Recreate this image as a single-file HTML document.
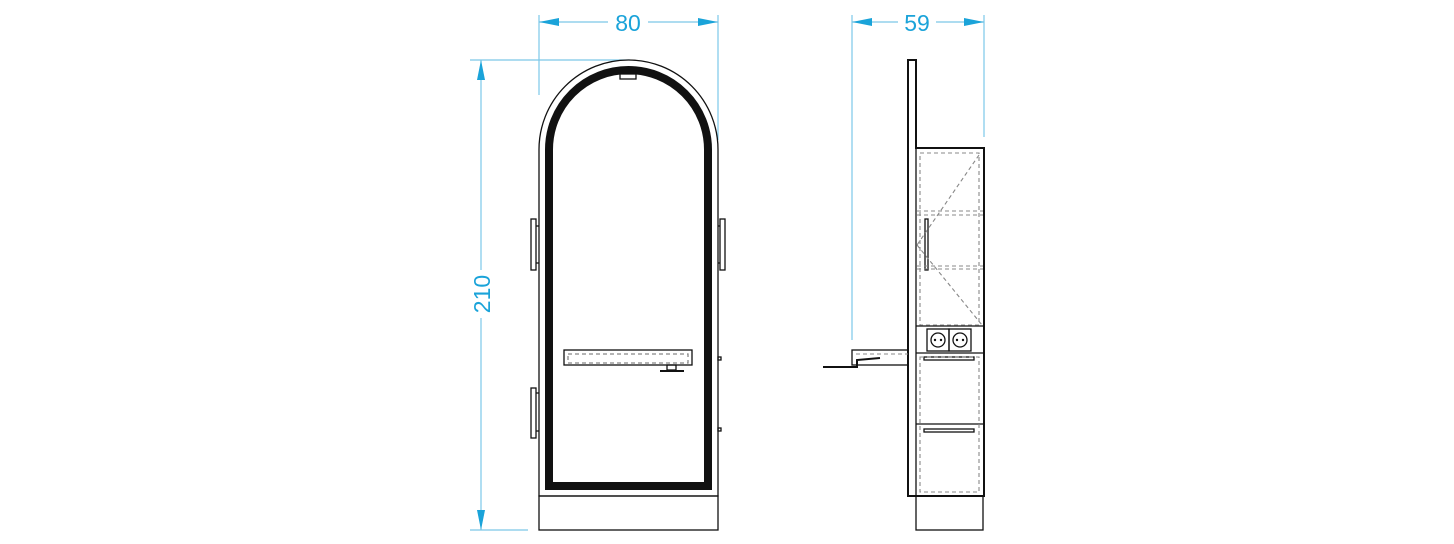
<!DOCTYPE html>
<html><head><meta charset="utf-8"><style>html,body{margin:0;padding:0;background:#fff}svg{display:block}</style></head>
<body>
<svg width="1454" height="544" viewBox="0 0 1454 544" xmlns="http://www.w3.org/2000/svg">
<g stroke="#7cc8e8" stroke-width="1.2" fill="none">
  <line x1="539" y1="15" x2="539" y2="95"/>
  <line x1="718" y1="15" x2="718" y2="140"/>
  <line x1="539" y1="22" x2="608" y2="22"/>
  <line x1="648" y1="22" x2="718" y2="22"/>
  <line x1="470" y1="60" x2="630" y2="60"/>
  <line x1="470" y1="530" x2="528" y2="530"/>
  <line x1="481" y1="60" x2="481" y2="270"/>
  <line x1="481" y1="318" x2="481" y2="530"/>
  <line x1="852" y1="15" x2="852" y2="340"/>
  <line x1="984" y1="15" x2="984" y2="137"/>
  <line x1="852" y1="22" x2="898" y2="22"/>
  <line x1="936" y1="22" x2="984" y2="22"/>
</g>
<g fill="#1aa3d9">
  <polygon points="539,22 559,18 559,26"/>
  <polygon points="718,22 698,18 698,26"/>
  <polygon points="481,60 477,80 485,80"/>
  <polygon points="481,530 477,510 485,510"/>
  <polygon points="852,22 872,18 872,26"/>
  <polygon points="984,22 964,18 964,26"/>
</g>
<g fill="#1aa3d9" font-family="Liberation Sans, sans-serif" font-size="23" text-anchor="middle">
  <text x="628" y="31">80</text>
  <text x="917" y="31">59</text>
  <text transform="translate(490,294) rotate(-90)">210</text>
</g>
<!-- front view -->
<g stroke="#111" fill="none" stroke-width="1.3">
  <path d="M539,496 V149.5 A89.5,89.5 0 0 1 718,149.5 V496 Z" fill="#fff"/>
  <rect x="539" y="496" width="179" height="34"/>
  <path d="M549,486 V149.5 A79.5,79.5 0 0 1 708,149.5 V486 Z" stroke-width="8"/>
  <rect x="620" y="74" width="16" height="5"/>
  <rect x="531" y="219" width="5" height="51"/>
  <rect x="531" y="388" width="5" height="50"/>
  <rect x="720" y="219" width="5" height="51"/>
  <line x1="536" y1="226" x2="539" y2="226"/><line x1="536" y1="263" x2="539" y2="263"/>
  <line x1="536" y1="393" x2="539" y2="393"/><line x1="536" y1="431" x2="539" y2="431"/>
  <line x1="718" y1="226" x2="720" y2="226"/><line x1="718" y1="263" x2="720" y2="263"/>
  <rect x="718" y="357" width="3" height="3"/>
  <rect x="718" y="428" width="3" height="3"/>
  <rect x="564" y="350" width="128" height="15" fill="#fff"/>
  <rect x="568" y="354" width="120" height="9" stroke="#888" stroke-dasharray="4,3"/>
  <rect x="667" y="365" width="9" height="5"/>
  <line x1="660" y1="371" x2="684" y2="371" stroke-width="2"/>
</g>
<!-- side view -->
<g stroke="#111" fill="none" stroke-width="1.3">
  <path d="M908,496 V60 H916 V148 H984 V496 Z" stroke-width="2"/>
  <rect x="916" y="496" width="67" height="34"/>
  <line x1="916" y1="148" x2="916" y2="496"/>
  <rect x="852" y="350" width="56" height="15"/>
  <polyline points="823,367 857,367 857,360 880,358" stroke-width="2"/>
  <line x1="916" y1="326" x2="984" y2="326"/>
  <line x1="916" y1="353" x2="984" y2="353"/>
  <line x1="916" y1="424" x2="984" y2="424"/>
  <rect x="927" y="329" width="22" height="22"/>
  <rect x="949" y="329" width="22" height="22"/>
  <circle cx="938" cy="340" r="7"/><circle cx="960" cy="340" r="7"/>
  <rect x="924" y="357" width="50" height="3"/>
  <rect x="924" y="429" width="50" height="3"/>
  <rect x="925" y="219" width="3" height="51"/>
</g>
<g fill="#111"><circle cx="935" cy="340" r="1.2"/><circle cx="941" cy="340" r="1.2"/><circle cx="957" cy="340" r="1.2"/><circle cx="963" cy="340" r="1.2"/></g>
<g stroke="#888" fill="none" stroke-width="1.1" stroke-dasharray="4,3">
  <rect x="920" y="153" width="59" height="172"/>
  <line x1="917" y1="211" x2="983" y2="211"/><line x1="917" y1="215" x2="983" y2="215"/>
  <line x1="917" y1="266" x2="983" y2="266"/><line x1="917" y1="269" x2="983" y2="269"/>
  <line x1="979" y1="155" x2="917" y2="245"/>
  <line x1="917" y1="245" x2="982" y2="325"/>
  <rect x="920" y="357" width="59" height="135"/>
  <line x1="856" y1="354" x2="908" y2="354"/>
</g>
</svg>
</body></html>
